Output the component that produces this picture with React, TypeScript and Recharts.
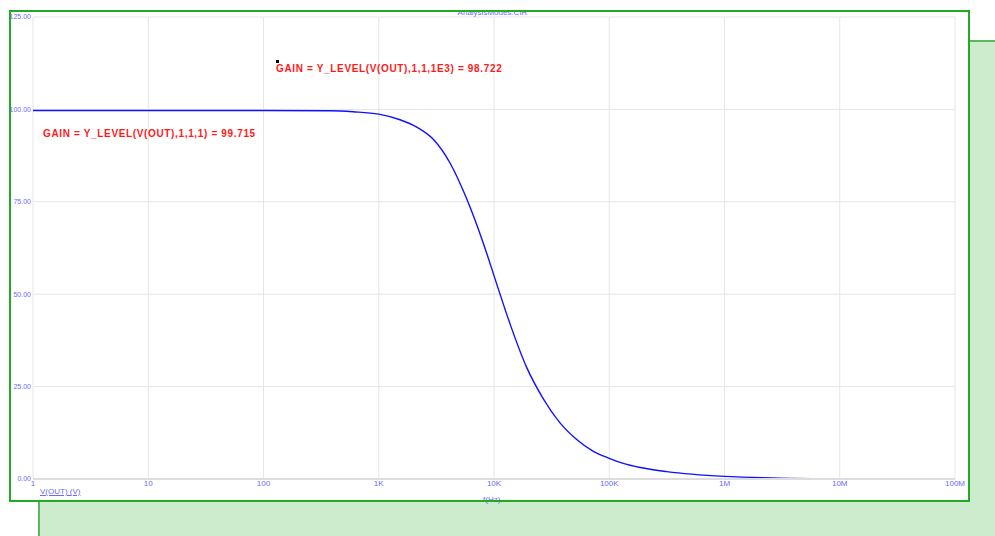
import React from 'react';
import { LineChart, Line, XAxis, YAxis, CartesianGrid } from 'recharts';

// frequency sweep (Hz) and V(OUT)
const freqs = [1, 10, 100, 378, 600, 1000, 1530, 2135, 2973, 4152, 5795, 8075, 10550, 13800, 19200, 26800, 37400, 52200, 72800, 100000, 130000, 186000, 316000, 1000000, 3000000, 10000000, 100000000];
const vout = [99.715, 99.71, 99.7, 99.62, 99.35, 98.722, 97.2, 95.2, 91.9, 85.5, 75.8, 63.8, 52.8, 41.9, 30.2, 21.7, 15.2, 10.7, 7.5, 5.6, 4.3, 3.1, 2.0, 0.7, 0.25, 0.08, 0.0];

const xTicks = [1, 10, 100, 1000, 10000, 100000, 1000000, 10000000, 100000000];
const xTickLabels = ['1', '10', '100', '1K', '10K', '100K', '1M', '10M', '100M'];
const yTicks = [0, 25, 50, 75, 100, 125];

const annotations = [
  { text: 'GAIN = Y_LEVEL(V(OUT),1,1,1E3) = 98.722', left: 276, top: 63 },
  { text: 'GAIN = Y_LEVEL(V(OUT),1,1,1) = 99.715', left: 43, top: 128 },
];

const data = freqs.map((f, i) => ({ f, v: vout[i] }));

const BLUE_TEXT = '#6a6aff';
const FONT = '"Liberation Sans", Arial, sans-serif';

export default function App() {
  return (
    <div style={{ position: 'absolute', left: 0, top: 0, width: 995, height: 536, overflow: 'hidden', background: '#fff', fontFamily: FONT }}>
      {/* green panel behind */}
      <div style={{ position: 'absolute', left: 38, top: 40, width: 957, height: 496, background: '#cdebcd', borderLeft: '2px solid #5cb85c', borderTop: '2px solid #5cb85c', boxSizing: 'border-box' }} />
      {/* white plot window */}
      <div style={{ position: 'absolute', left: 9, top: 10, width: 960, height: 491, background: '#fff' }} />
      <div style={{ position: 'absolute', left: 0, top: 10 }}>
        <LineChart width={969} height={491} data={data} margin={{ top: 7, right: 14, bottom: 0, left: 9 }}>
          <CartesianGrid stroke="#e6e6e6" strokeWidth={1} verticalValues={xTicks} horizontalValues={yTicks} />
          <XAxis
            dataKey="f"
            type="number"
            scale="log"
            domain={[1, 100000000]}
            ticks={xTicks}
            tickFormatter={(v: number) => xTickLabels[xTicks.indexOf(v)] ?? ''}
            axisLine={{ stroke: '#dddddd', strokeWidth: 2 }}
            tickLine={false}
            tickSize={0}
            tickMargin={1}
            height={22}
            interval={0}
            tick={{ fill: BLUE_TEXT, fontSize: 8, fontFamily: FONT }}
            allowDataOverflow
          />
          <YAxis
            type="number"
            domain={[0, 125]}
            ticks={yTicks}
            tickFormatter={(v: number) => v.toFixed(2)}
            axisLine={false}
            tickLine={false}
            tickSize={0}
            tickMargin={2}
            width={24}
            interval={0}
            tick={{ fill: BLUE_TEXT, fontSize: 7, fontFamily: FONT }}
          />
          <Line
            type="monotone"
            dataKey="v"
            stroke="#1010ff"
            strokeWidth={1.4}
            dot={false}
            isAnimationActive={false}
          />
        </LineChart>
      </div>
      {/* texts */}
      <div style={{ position: 'absolute', left: 380, width: 225, top: 8, textAlign: 'center', fontSize: 8, color: BLUE_TEXT }}>AnalysisModes.CIR</div>
      <div style={{ position: 'absolute', left: 40, top: 487, fontSize: 8, color: BLUE_TEXT, textDecoration: 'underline' }}>V(OUT) (V)</div>
      <div style={{ position: 'absolute', left: 483, top: 495, fontSize: 8, color: BLUE_TEXT }}>f(Hz)</div>
      {annotations.map((a) => (
        <div key={a.text} style={{ position: 'absolute', left: a.left, top: a.top, fontSize: 10, fontWeight: 'bold', color: '#ff1a1a', whiteSpace: 'nowrap', letterSpacing: 0.65 }}>{a.text}</div>
      ))}
      <div style={{ position: 'absolute', left: 276, top: 60, width: 3, height: 3, background: '#000' }} />
      {/* window border */}
      <div style={{ position: 'absolute', left: 9, top: 10, width: 961, height: 492, border: '2px solid #22aa22', boxSizing: 'border-box', pointerEvents: 'none' }} />
    </div>
  );
}
